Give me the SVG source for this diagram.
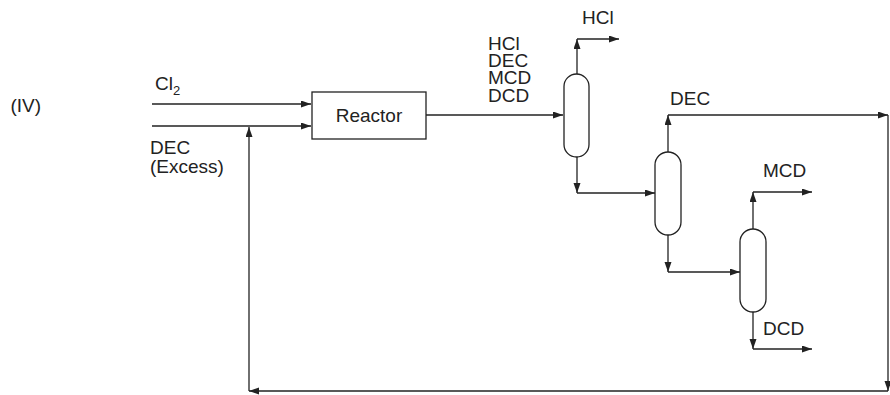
<svg xmlns="http://www.w3.org/2000/svg" width="890" height="395" viewBox="0 0 890 395">
<style>
.t{font-family:"Liberation Sans",Arial,sans-serif;font-size:19px;fill:#222}
.ln{fill:none;stroke:#222;stroke-width:1.3}
.eq{fill:#fff;stroke:#222;stroke-width:1.3}
</style>
<defs>
<marker id="ah" markerUnits="userSpaceOnUse" markerWidth="11" markerHeight="8" refX="10" refY="3.5" orient="auto">
<path d="M0,0 L10,3.5 L0,7 z" fill="#222"/>
</marker>
</defs>
<text class="t" x="41" y="112" text-anchor="end">(IV)</text>
<g id="connectors">
<path class="ln" d="M152,104 H311" marker-end="url(#ah)"/>
<path class="ln" d="M152,126 H311" marker-end="url(#ah)"/>
<path class="ln" d="M426,115 H563" marker-end="url(#ah)"/>
<path class="ln" d="M577,74 V39" marker-end="url(#ah)"/>
<path class="ln" d="M577,39 H619" marker-end="url(#ah)"/>
<path class="ln" d="M577,157 V193" marker-end="url(#ah)"/>
<path class="ln" d="M577,193 H655" marker-end="url(#ah)"/>
<path class="ln" d="M668,152 V115" marker-end="url(#ah)"/>
<path class="ln" d="M668,115 H888" marker-end="url(#ah)"/>
<path class="ln" d="M668,235 V272" marker-end="url(#ah)"/>
<path class="ln" d="M668,272 H740" marker-end="url(#ah)"/>
<path class="ln" d="M753,229 V192" marker-end="url(#ah)"/>
<path class="ln" d="M753,192 H812" marker-end="url(#ah)"/>
<path class="ln" d="M753,312 V349" marker-end="url(#ah)"/>
<path class="ln" d="M753,349 H812" marker-end="url(#ah)"/>
<path class="ln" d="M888,115 V391" marker-end="url(#ah)"/>
<path class="ln" d="M888,391 H249" marker-end="url(#ah)"/>
<path class="ln" d="M249,391 V127" marker-end="url(#ah)"/>
</g>
<g id="labels">
<text class="t" x="155" y="90">Cl<tspan font-size="13" dy="5">2</tspan></text>
<text class="t" x="150" y="154">DEC</text>
<text class="t" x="150" y="173">(Excess)</text>
<text class="t" x="582" y="24">HCl</text>
<text class="t" x="488" y="50">HCl</text>
<text class="t" x="488" y="67">DEC</text>
<text class="t" x="488" y="84">MCD</text>
<text class="t" x="488" y="102">DCD</text>
<text class="t" x="670" y="105">DEC</text>
<text class="t" x="763" y="177">MCD</text>
<text class="t" x="763" y="335">DCD</text>
</g>
<g id="reactor">
<rect class="eq" x="312" y="92" width="114" height="47"/>
<text class="t" x="369" y="122" text-anchor="middle">Reactor</text>
</g>
<g id="column1"><rect class="eq" x="564" y="74" width="25" height="83" rx="12.5" ry="12.5"/></g>
<g id="column2"><rect class="eq" x="655" y="152" width="26" height="83" rx="13" ry="13"/></g>
<g id="column3"><rect class="eq" x="740" y="229" width="26" height="83" rx="13" ry="13"/></g>
</svg>
